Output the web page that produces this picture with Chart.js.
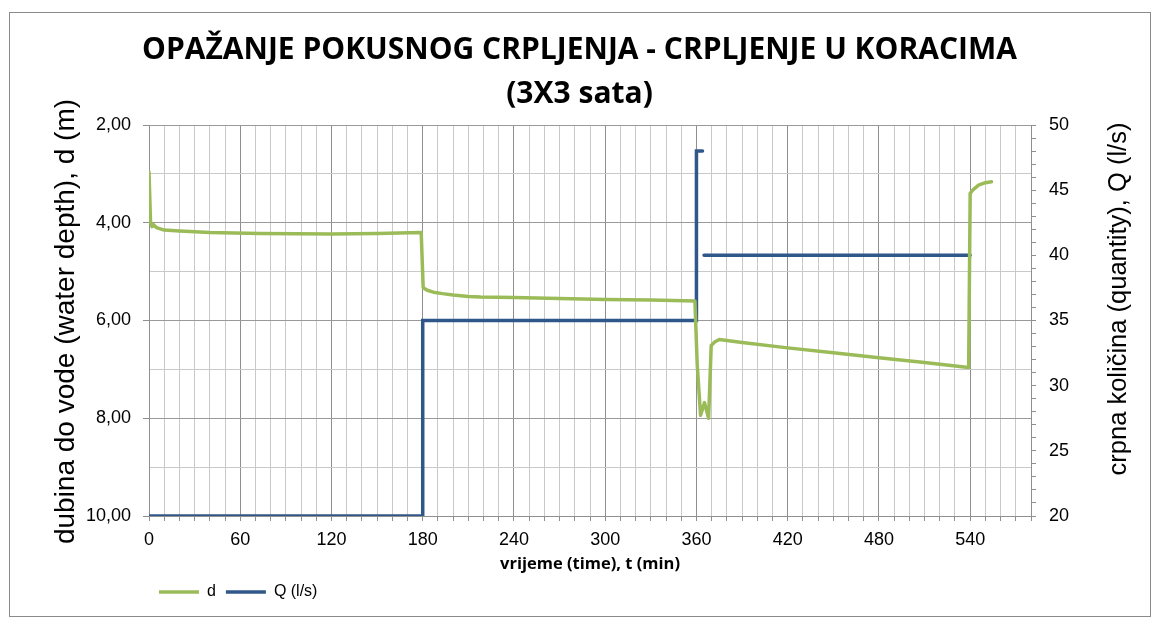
<!DOCTYPE html>
<html>
<head>
<meta charset="utf-8">
<script src="https://cdn.jsdelivr.net/npm/chart.js@4.4.1/dist/chart.umd.min.js"></script>
<style>
html,body{margin:0;padding:0;background:#fff;}
#wrap{width:1159px;height:626px;position:relative;}
</style>
</head>
<body>
<div id="wrap"><canvas id="c" width="1159" height="626"></canvas></div>
<script>
// ---- texts ----
const titleLines = ['OPAŽANJE POKUSNOG CRPLJENJA - CRPLJENJE U KORACIMA', '(3X3 sata)'];
const xAxisTitle = 'vrijeme (time), t (min)';
const leftAxisTitle = 'dubina do vode (water depth), d (m)';
const rightAxisTitle = 'crpna količina (quantity), Q (l/s)';
const seriesNames = ['d', 'Q (l/s)'];

// ---- series d : water depth (m) vs time (min) ----
const dTime  = [0, 1, 2, 3, 5, 10, 20, 40, 73, 120, 150, 179,
                180.3, 183, 187, 193, 200, 210, 218, 240, 270, 300, 330, 359,
                360.5, 362.7, 365.3, 368, 369.7, 372, 375, 390, 420, 450, 480, 510, 539,
                540, 542, 545.5, 550, 554];
const dDepth = [2.96, 3.98, 4.08, 4.04, 4.10, 4.15, 4.17, 4.20, 4.22, 4.23, 4.22, 4.20,
                5.33, 5.38, 5.42, 5.45, 5.48, 5.51, 5.52, 5.53, 5.55, 5.57, 5.58, 5.60,
                6.90, 7.94, 7.68, 8.00, 6.51, 6.44, 6.39, 6.45, 6.56, 6.66, 6.76, 6.86, 6.96,
                3.40, 3.32, 3.23, 3.18, 3.16];

// ---- series Q : pumping rate (l/s) vs time (min) ----
const qTime = [0, 180, 180, 360, 360, 364, 364.5, 365, 540];
const qFlow = [20, 20, 35, 35, 48, 48, null, 40, 40];

// ---- axis ranges / ticks ----
const xRange = [0, 580];
const xStep = 10;
const xLabelEvery = 60;
const dRange = [2, 10];
const qRange = [20, 50];

const GREEN = '#9BBB59';
const BLUE = '#30578A';

Chart.defaults.font.family = '"Liberation Sans", Arial, sans-serif';
Chart.defaults.color = '#000';

const decor = {
  id: 'decor',
  beforeDraw(chart) {
    const c = chart.ctx;
    c.save();
    c.fillStyle = '#fff';
    c.fillRect(0, 0, chart.width, chart.height);
    c.strokeStyle = '#8a8a8a';
    c.lineWidth = 1;
    c.strokeRect(9.5, 12.5, 1141, 604);
    c.restore();
  },
  afterDraw(chart) {
    const c = chart.ctx;
    const a = chart.chartArea;
    c.save();
    c.fillStyle = '#000';
    c.textAlign = 'center';
    c.textBaseline = 'middle';
    c.font = '28px "Liberation Sans"';
    c.translate(66, (a.top + a.bottom) / 2 + 1);
    c.rotate(-Math.PI / 2);
    c.fillText(chart.options.scales.y.title.text, 0, 0);
    c.restore();
    c.save();
    c.fillStyle = '#000';
    c.textAlign = 'center';
    c.textBaseline = 'middle';
    c.font = '25.5px "Liberation Sans"';
    c.translate(1119, 299);
    c.rotate(-Math.PI / 2);
    c.fillText(chart.options.scales.y2.title.text, 0, 0);
    c.restore();
  }
};

new Chart(document.getElementById('c'), {
  type: 'line',
  data: {
    datasets: [
      {
        label: seriesNames[0],
        data: dTime.map((t, i) => ({x: t, y: dDepth[i]})),
        yAxisID: 'y',
        borderColor: GREEN,
        backgroundColor: GREEN,
        borderWidth: 3.5,
        pointRadius: 0,
        tension: 0,
        borderCapStyle: 'round',
        borderJoinStyle: 'round'
      },
      {
        label: seriesNames[1],
        data: qTime.map((t, i) => ({x: t, y: qFlow[i]})),
        yAxisID: 'y2',
        borderColor: BLUE,
        backgroundColor: BLUE,
        borderWidth: 3.5,
        pointRadius: 0,
        tension: 0,
        spanGaps: false,
        borderCapStyle: 'round',
        borderJoinStyle: 'miter'
      }
    ]
  },
  options: {
    responsive: false,
    animation: false,
    devicePixelRatio: 1,
    layout: {padding: {top: 12, left: 10, right: 10, bottom: 16}},
    plugins: {
      tooltip: {enabled: false},
      title: {
        display: true,
        text: titleLines,
        color: '#000',
        font: {family: '"Open Sans"', weight: 'bold', size: 30, lineHeight: 1.467},
        padding: {top: 16, bottom: 9}
      },
      legend: {
        position: 'bottom',
        align: 'start',
        fullSize: false,
        labels: {
          usePointStyle: true,
          pointStyle: 'line',
          pointStyleWidth: 40,
          color: '#000',
          font: {size: 16},
          padding: 10
        }
      }
    },
    scales: {
      x: {
        type: 'linear',
        min: xRange[0], max: xRange[1],
        ticks: {
          stepSize: xStep, autoSkip: false, maxRotation: 0, padding: 8,
          font: {size: 18},
          callback: v => (v % xLabelEvery === 0 ? String(v) : '')
        },
        grid: {
          color: ctx => (ctx.tick && ctx.tick.value % xLabelEvery === 0 ? '#8f8f8f' : '#c9c9c9'),
          tickColor: '#8f8f8f',
          tickLength: 5
        },
        border: {color: '#8f8f8f'},
        title: {
          display: true, text: xAxisTitle,
          font: {family: '"Open Sans"', weight: 'bold', size: 16.5},
          padding: {top: 0, bottom: 0}
        },
        afterFit: s => { s.height = 58; }
      },
      y: {
        position: 'left',
        reverse: true,
        min: dRange[0], max: dRange[1],
        ticks: {
          stepSize: 1, autoSkip: false, padding: 12,
          font: {size: 18},
          callback: v => (v % 2 === 0 ? v.toFixed(2).replace('.', ',') : '')
        },
        grid: {
          color: ctx => (ctx.tick && ctx.tick.value % 2 === 0 ? '#9a9a9a' : '#c9c9c9'),
          tickColor: ctx => (ctx.tick && ctx.tick.value % 2 === 0 ? '#8f8f8f' : 'rgba(0,0,0,0)'),
          tickLength: 6
        },
        border: {color: '#8f8f8f'},
        title: {display: false, text: leftAxisTitle},
        afterFit: s => { s.width = 139; }
      },
      y2: {
        position: 'right',
        min: qRange[0], max: qRange[1],
        ticks: {
          stepSize: 1, autoSkip: false, padding: 13,
          font: {size: 18},
          callback: v => (v % 5 === 0 ? String(v) : '')
        },
        grid: {
          drawOnChartArea: false,
          tickColor: '#8f8f8f',
          tickLength: 5
        },
        border: {color: '#8f8f8f'},
        title: {display: false, text: rightAxisTitle},
        afterFit: s => { s.width = 118; }
      }
    }
  },
  plugins: [decor]
});
</script>
</body>
</html>
